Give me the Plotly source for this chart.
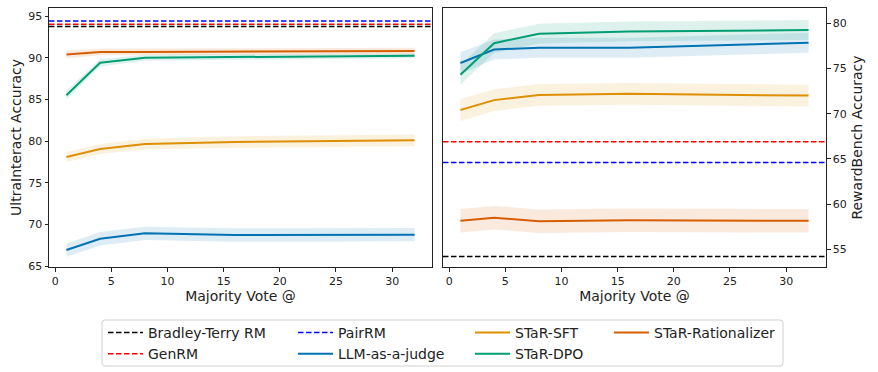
import plotly.graph_objects as go

W, H = 878, 372

votes = [1, 4, 8, 16, 32]

# UltraInteract (left panel)
ui_llm = [66.95, 68.3, 68.95, 68.75, 68.8]
ui_llm_sd = [0.8, 0.8, 0.8, 0.8, 0.8]
ui_sft = [78.1, 79.05, 79.65, 79.9, 80.1]
ui_sft_sd = [0.6, 0.6, 0.65, 0.7, 0.7]
ui_dpo = [85.5, 89.4, 90.0, 90.1, 90.25]
ui_dpo_sd = [0.55, 0.45, 0.35, 0.3, 0.3]
ui_rat = [90.4, 90.7, 90.7, 90.75, 90.8]
ui_rat_sd = [0.45, 0.4, 0.4, 0.4, 0.4]
ui_bt = 93.75
ui_gen = 94.0
ui_pair = 94.4

# RewardBench (right panel)
rb_llm = [75.6, 77.1, 77.3, 77.3, 77.85]
rb_llm_sd = [1.2, 1.1, 1.1, 1.1, 1.1]
rb_sft = [70.4, 71.5, 72.07, 72.2, 72.0]
rb_sft_sd = [1.2, 1.2, 1.2, 1.2, 1.2]
rb_dpo = [74.3, 77.8, 78.85, 79.1, 79.25]
rb_dpo_sd = [1.1, 1.1, 1.1, 1.1, 1.1]
rb_rat = [58.15, 58.5, 58.1, 58.2, 58.15]
rb_rat_sd = [1.3, 1.3, 1.3, 1.3, 1.3]
rb_bt = 54.2
rb_gen = 66.9
rb_pair = 64.6

x_range = [-0.55, 33.55]
ui_range = [64.92, 95.96]
rb_range = [53.04, 81.69]
x_ticks = [0, 5, 10, 15, 20, 25, 30]
ui_ticks = [65, 70, 75, 80, 85, 90, 95]
rb_ticks = [55, 60, 65, 70, 75, 80]

C_LLM = "#0173b2"
C_SFT = "#de8f05"
C_DPO = "#029e73"
C_RAT = "#d55e00"

def rgba(hexc, a):
    h = hexc.lstrip("#")
    return f"rgba({int(h[0:2],16)},{int(h[2:4],16)},{int(h[4:6],16)},{a})"

FONT = "DejaVu Sans"
fig = go.Figure()

def band(xa, ya, ys, sd, color):
    upper = [v + s for v, s in zip(ys, sd)]
    lower = [v - s for v, s in zip(ys, sd)]
    fig.add_trace(go.Scatter(x=votes + votes[::-1], y=upper + lower[::-1], fill="toself",
                             fillcolor=rgba(color, 0.13), line=dict(width=0),
                             mode="lines", hoverinfo="skip", showlegend=False,
                             xaxis=xa, yaxis=ya))

def hline(xa, ya, yv, color, name, show, legend):
    fig.add_trace(go.Scatter(x=x_range, y=[yv, yv], mode="lines",
                             line=dict(color=color, width=1.5, dash="5.5px,2.5px"),
                             name=name, showlegend=show, legend=legend,
                             xaxis=xa, yaxis=ya))

def curve(xa, ya, ys, color, name, show, legend):
    fig.add_trace(go.Scatter(x=votes, y=ys, mode="lines",
                             line=dict(color=color, width=2),
                             name=name, showlegend=show, legend=legend,
                             xaxis=xa, yaxis=ya))

for xa, ya, data, first in [
    ("x", "y", (ui_bt, ui_gen, ui_pair, ui_llm, ui_llm_sd, ui_sft, ui_sft_sd, ui_dpo, ui_dpo_sd, ui_rat, ui_rat_sd), True),
    ("x2", "y2", (rb_bt, rb_gen, rb_pair, rb_llm, rb_llm_sd, rb_sft, rb_sft_sd, rb_dpo, rb_dpo_sd, rb_rat, rb_rat_sd), False),
]:
    bt, gen, pair, llm, llm_sd, sft, sft_sd, dpo, dpo_sd, rat, rat_sd = data
    band(xa, ya, llm, llm_sd, C_LLM)
    band(xa, ya, sft, sft_sd, C_SFT)
    band(xa, ya, dpo, dpo_sd, C_DPO)
    band(xa, ya, rat, rat_sd, C_RAT)
    hline(xa, ya, bt, "black", "Bradley-Terry RM", first, "legend")
    hline(xa, ya, gen, "red", "GenRM", first, "legend")
    hline(xa, ya, pair, "blue", "PairRM", first, "legend2")
    curve(xa, ya, llm, C_LLM, "LLM-as-a-judge", first, "legend2")
    curve(xa, ya, sft, C_SFT, "STaR-SFT", first, "legend3")
    curve(xa, ya, dpo, C_DPO, "STaR-DPO", first, "legend3")
    curve(xa, ya, rat, C_RAT, "STaR-Rationalizer", first, "legend4")

def px_x(p):
    return p / W

def px_y(p):
    return (H - p) / H

axis_common = dict(showline=True, linecolor="#222", linewidth=1, mirror=True,
                   ticks="outside", ticklen=3.5, tickwidth=0.8, tickcolor="#222",
                   showgrid=False, zeroline=False, automargin=False,
                   tickfont=dict(family=FONT, size=11, color="#222"))

ydom = [px_y(267), px_y(8)]
fig.update_layout(
    width=W, height=H, margin=dict(l=0, r=0, t=0, b=0, pad=0, autoexpand=False),
    plot_bgcolor="white", paper_bgcolor="white",
    font=dict(family=FONT, size=14, color="#222"),
    xaxis=dict(domain=[px_x(49), px_x(432)], range=x_range, tickvals=x_ticks, anchor="y",
               title=dict(text="Majority Vote @", standoff=4, font=dict(size=14)), **axis_common),
    yaxis=dict(domain=ydom, range=ui_range, tickvals=ui_ticks, anchor="x",
               title=dict(text="UltraInteract Accuracy", standoff=3, font=dict(size=14)), **axis_common),
    xaxis2=dict(domain=[px_x(443), px_x(826)], range=x_range, tickvals=x_ticks, anchor="y2",
                title=dict(text="Majority Vote @", standoff=4, font=dict(size=14)), **axis_common),
    yaxis2=dict(domain=ydom, range=rb_range, tickvals=rb_ticks, anchor="x2", side="right",
                title=dict(text="RewardBench Accuracy", standoff=6, font=dict(size=14)), **axis_common),
)

leg_common = dict(orientation="v", xanchor="left", yanchor="top", bgcolor="rgba(0,0,0,0)",
                  borderwidth=0, font=dict(family=FONT, size=14, color="#222"),
                  tracegroupgap=0, itemwidth=35)
legend_y = px_y(317)
fig.update_layout(
    legend=dict(x=px_x(103), y=legend_y, **leg_common),
    legend2=dict(x=px_x(293), y=legend_y, **leg_common),
    legend3=dict(x=px_x(470), y=legend_y, **leg_common),
    legend4=dict(x=px_x(609), y=legend_y, **leg_common),
)

# legend frame
x0, x1, y0, y1, r = px_x(102), px_x(783), px_y(366), px_y(320), 3
rx, ry = r / W, r / H
path = (f"M {x0+rx},{y1} L {x1-rx},{y1} Q {x1},{y1} {x1},{y1-ry} L {x1},{y0+ry} "
        f"Q {x1},{y0} {x1-rx},{y0} L {x0+rx},{y0} Q {x0},{y0} {x0},{y0+ry} "
        f"L {x0},{y1-ry} Q {x0},{y1} {x0+rx},{y1} Z")
fig.add_shape(type="path", path=path, xref="paper", yref="paper",
              line=dict(color="#d0d0d0", width=1), fillcolor="rgba(255,255,255,0.8)", layer="below")

fig.write_html("out.html", config={"displayModeBar": False},
               post_script="document.body.style.margin='0';document.body.style.padding='0';")
